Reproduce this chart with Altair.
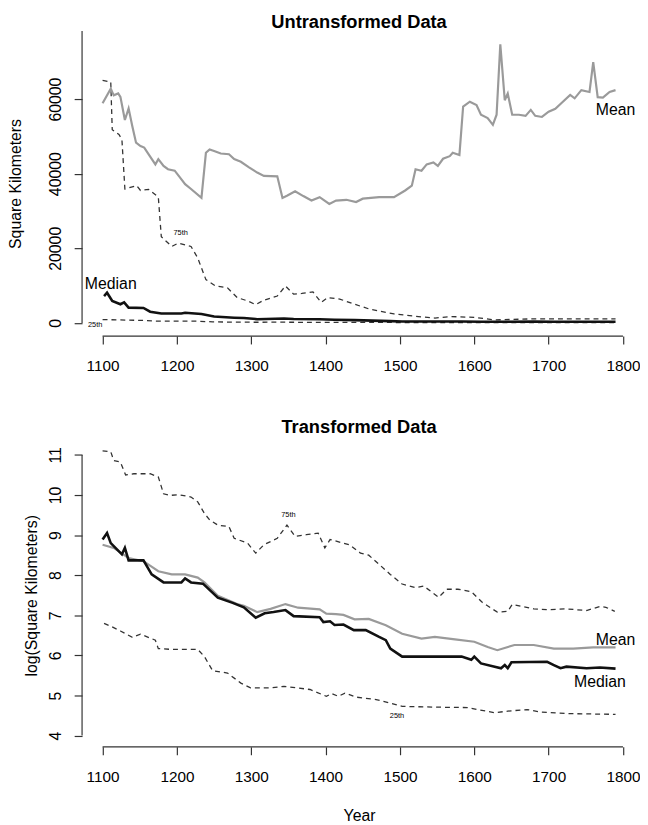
import altair as alt
import pandas as pd

FONT = "Liberation Sans"

# ---------------- Top panel (untransformed, square kilometers) ----------------
TOP_MEAN_YEARS = [1100, 1111, 1115, 1121, 1124, 1130, 1135, 1140, 1145, 1151, 1156, 1162, 1171, 1175,
                  1182, 1188, 1197, 1204, 1211, 1219, 1233, 1239, 1244, 1250, 1259, 1270, 1277, 1286,
                  1297, 1308, 1317, 1335, 1342, 1348, 1359, 1370, 1381, 1392, 1405, 1414, 1428, 1441,
                  1450, 1472, 1492, 1507, 1516, 1521, 1529, 1536, 1545, 1551, 1558, 1567, 1571, 1580,
                  1585, 1594, 1603, 1609, 1618, 1625, 1630, 1635, 1641, 1645, 1651, 1660, 1669, 1676,
                  1682, 1691, 1700, 1709, 1717, 1729, 1735, 1744, 1755, 1760, 1766, 1773, 1782, 1790]
TOP_MEAN = [58900, 62800, 61000, 61500, 60600, 54400, 57500, 52700, 48300, 47400, 47000, 45200, 42500, 43900,
            42100, 41200, 40800, 39000, 37200, 35900, 33500, 45600, 46500, 46100, 45400, 45200, 43900, 43200,
            41700, 40300, 39400, 39300, 33500, 34100, 35300, 34000, 32800, 33700, 31900, 32800, 33000, 32400,
            33300, 33700, 33700, 35500, 36800, 41200, 40800, 42500, 43000, 42100, 44000, 44700, 45600, 45000,
            58000, 59300, 58400, 55800, 54900, 53100, 55800, 74700, 59700, 61500, 55800, 55800, 55500, 57100,
            55500, 55200, 56600, 57400, 58900, 61100, 60200, 62400, 61900, 69900, 60500, 60400, 61900, 62400]

TOP_P75_YEARS = [1100, 1111, 1113, 1122, 1126, 1130, 1146, 1151, 1162, 1175, 1179, 1193, 1202, 1219, 1228,
                 1239, 1252, 1268, 1281, 1295, 1306, 1317, 1335, 1346, 1357, 1368, 1383, 1394, 1403, 1419,
                 1436, 1459, 1492, 1525, 1547, 1569, 1600, 1627, 1680, 1790]
TOP_P75 = [65000, 64600, 51800, 50500, 49200, 35900, 36800, 35500, 35800, 33700, 23100, 20500, 21400, 20500, 17400,
           11600, 9900, 9400, 6800, 5900, 4900, 6100, 7200, 9900, 7700, 7900, 8300, 5500, 6800, 6400,
           5200, 3700, 2400, 1700, 1300, 1700, 1500, 800, 1100, 1100]

TOP_MED_YEARS = [1102, 1106, 1113, 1124, 1129, 1135, 1155, 1164, 1179, 1206, 1211, 1233, 1250, 1277, 1290,
                 1308, 1344, 1357, 1392, 1412, 1439, 1487, 1503, 1583, 1609, 1641, 1680, 1707, 1790]
TOP_MED = [7200, 8100, 5900, 5000, 5500, 4100, 4000, 3000, 2500, 2500, 2700, 2400, 1700, 1400, 1300,
           1000, 1200, 1050, 1000, 850, 750, 480, 400, 400, 330, 310, 340, 310, 290]

TOP_P25_YEARS = [1100, 1151, 1175, 1228, 1248, 1299, 1344, 1401, 1441, 1503, 1627, 1790]
TOP_P25 = [900, 680, 480, 470, 270, 180, 185, 145, 140, 110, 95, 90]

TOP_LABELS = ["Mean", "Median", "75th", "25th"]
TOP_LABEL_YEARS = [1790, 1111, 1205, 1090]
TOP_LABEL_VALUES = [57100, 10300, 24200, -530]
TOP_LABEL_SIZES = [16, 16, 7.5, 7.5]

# ---------------- Bottom panel (log square kilometers) ----------------
BOT_P75_YEARS = [1100, 1111, 1115, 1124, 1131, 1142, 1164, 1175, 1182, 1191, 1202, 1219, 1228, 1237, 1244,
                 1255, 1270, 1277, 1295, 1306, 1317, 1335, 1348, 1359, 1374, 1390, 1399, 1406, 1424, 1432,
                 1447, 1458, 1472, 1487, 1503, 1521, 1532, 1552, 1563, 1578, 1596, 1611, 1631, 1645, 1651,
                 1680, 1698, 1724, 1751, 1769, 1777, 1789]
BOT_P75 = [11.10, 11.08, 10.86, 10.82, 10.50, 10.53, 10.53, 10.45, 10.03, 9.99, 10.01, 9.95, 9.83, 9.54, 9.38,
           9.25, 9.21, 8.92, 8.80, 8.55, 8.76, 8.92, 9.25, 8.97, 9.01, 9.05, 8.68, 8.89, 8.80, 8.76,
           8.55, 8.50, 8.27, 8.02, 7.78, 7.69, 7.73, 7.45, 7.65, 7.65, 7.59, 7.32, 7.08, 7.10, 7.27,
           7.16, 7.14, 7.16, 7.12, 7.22, 7.20, 7.10]

BOT_MEAN_YEARS = [1100, 1115, 1135, 1155, 1175, 1193, 1211, 1228, 1237, 1255, 1281, 1290, 1308, 1326, 1346,
                  1363, 1392, 1401, 1414, 1424, 1439, 1458, 1481, 1503, 1529, 1547, 1574, 1600, 1618, 1631,
                  1654, 1680, 1707, 1733, 1760, 1790]
BOT_MEAN = [8.76, 8.68, 8.43, 8.35, 8.10, 8.02, 8.02, 7.94, 7.82, 7.49, 7.28, 7.24, 7.08, 7.16, 7.28,
            7.19, 7.15, 7.04, 7.03, 7.01, 6.90, 6.91, 6.75, 6.54, 6.42, 6.46, 6.40, 6.34, 6.21, 6.13,
            6.26, 6.26, 6.17, 6.17, 6.20, 6.20]

BOT_MED_YEARS = [1100, 1106, 1111, 1126, 1130, 1135, 1155, 1166, 1182, 1206, 1211, 1219, 1235, 1255, 1275,
                 1290, 1306, 1318, 1330, 1346, 1357, 1392, 1397, 1406, 1412, 1424, 1438, 1454, 1472, 1481,
                 1487, 1503, 1583, 1596, 1600, 1609, 1636, 1641, 1645, 1650, 1698, 1707, 1716, 1724, 1751,
                 1769, 1790]
BOT_MED = [8.89, 9.05, 8.80, 8.52, 8.68, 8.37, 8.37, 8.02, 7.82, 7.82, 7.92, 7.82, 7.79, 7.44, 7.31,
           7.20, 6.94, 7.05, 7.08, 7.13, 6.98, 6.95, 6.83, 6.85, 6.76, 6.77, 6.63, 6.63, 6.46, 6.38,
           6.17, 5.97, 5.97, 5.89, 5.97, 5.80, 5.68, 5.76, 5.68, 5.83, 5.84, 5.76, 5.68, 5.72, 5.68,
           5.70, 5.67]

BOT_P25_YEARS = [1102, 1113, 1124, 1140, 1151, 1171, 1175, 1193, 1228, 1237, 1248, 1268, 1286, 1299, 1326,
                 1344, 1379, 1401, 1408, 1417, 1426, 1441, 1468, 1503, 1547, 1591, 1627, 1645, 1671, 1689,
                 1724, 1790]
BOT_P25 = [6.80, 6.71, 6.61, 6.45, 6.53, 6.38, 6.17, 6.15, 6.15, 5.97, 5.62, 5.56, 5.31, 5.19, 5.19,
           5.23, 5.15, 4.98, 5.05, 4.98, 5.06, 4.96, 4.90, 4.73, 4.71, 4.70, 4.57, 4.61, 4.65, 4.59,
           4.55, 4.53]

BOT_LABELS = ["Mean", "Median", "75th", "25th"]
BOT_LABEL_YEARS = [1790, 1769, 1350, 1496]
BOT_LABEL_VALUES = [6.38, 5.34, 9.50, 4.49]
BOT_LABEL_SIZES = [16, 16, 7.5, 7.5]

# ---------------- Axes ----------------
X_TICKS = [1100, 1200, 1300, 1400, 1500, 1600, 1700, 1800]
TOP_Y_TICKS = [0, 20000, 40000, 60000]
BOT_Y_TICKS = [4, 5, 6, 7, 8, 9, 10, 11]

X_DOMAIN = [1072.4, 1817.6]
TOP_Y_DOMAIN = [-3520, 78270]
BOT_Y_DOMAIN = [3.72, 11.28]

W = 561
TOP_H = 309
BOT_H = 307

MEAN_COLOR = "#9a9a9a"
DARK = "#111111"
DASH_COLOR = "#333333"


def panel(series, labels, ydomain, yticks, ytitle, ytitle_pad, xtitle, height, title, title_y):
    xscale = alt.Scale(domain=X_DOMAIN, nice=False, zero=False)
    yscale = alt.Scale(domain=ydomain, nice=False, zero=False)
    xaxis = alt.Axis(values=X_TICKS, format="d", domain=False, grid=False, tickSize=8,
                     tickColor=DASH_COLOR, tickWidth=1.2, labelPadding=15,
                     labelFontSize=15.5, labelFont=FONT, labelColor="#000",
                     title=xtitle, titleFont=FONT, titleFontSize=16, titleFontWeight="normal",
                     titleColor="#000", titlePadding=23, labelFlush=False, labelOverlap=False)
    yaxis = alt.Axis(values=yticks, format="d", domain=False, grid=False, tickSize=8,
                     tickColor=DASH_COLOR, tickWidth=1.2, labelPadding=11, labelAngle=270,
                     labelAlign="center", labelBaseline="bottom",
                     labelFontSize=16, labelFont=FONT, labelColor="#000",
                     title=ytitle, titleFont=FONT, titleFontSize=16, titleFontWeight="normal",
                     titleColor="#000", titlePadding=ytitle_pad, labelFlush=False, labelOverlap=False)

    layers = []
    for years, vals, color, width, dash in series:
        df = pd.DataFrame({"year": years, "value": vals})
        kw = dict(color=color, strokeWidth=width, clip=True)
        if dash:
            kw["strokeDash"] = dash
        layers.append(
            alt.Chart(df).mark_line(**kw).encode(
                x=alt.X("year:Q", scale=xscale, axis=xaxis),
                y=alt.Y("value:Q", scale=yscale, axis=yaxis),
            )
        )

    names, lyears, lvals, lsizes = labels
    for name, yr, v, s in zip(names, lyears, lvals, lsizes):
        df = pd.DataFrame({"year": [yr], "value": [v], "label": [name]})
        layers.append(
            alt.Chart(df).mark_text(font=FONT, fontSize=s, color="#000", align="center",
                                    baseline="middle").encode(
                x=alt.X("year:Q", scale=xscale, axis=xaxis),
                y=alt.Y("value:Q", scale=yscale, axis=yaxis),
                text="label:N",
            )
        )

    one = pd.DataFrame({"d": [0]})
    # panel title, centred over the plot area
    layers.append(
        alt.Chart(pd.DataFrame({"t": [title]})).mark_text(
            font=FONT, fontSize=18.5, fontWeight="bold", color="#000",
            align="center", baseline="middle").encode(
            x=alt.value(W / 2), y=alt.value(title_y), text="t:N")
    )
    # x axis line spanning first to last tick
    layers.append(
        alt.Chart(one).mark_rule(color=DASH_COLOR, strokeWidth=1.2).encode(
            x=alt.X(datum=X_TICKS[0], scale=xscale, axis=xaxis),
            x2=alt.X2(datum=X_TICKS[-1]),
            y=alt.value(height),
        )
    )
    return alt.layer(*layers).properties(width=W, height=height)


top = panel(
    [
        (TOP_P25_YEARS, TOP_P25, DASH_COLOR, 1.3, [5, 4]),
        (TOP_P75_YEARS, TOP_P75, DASH_COLOR, 1.3, [5, 4]),
        (TOP_MEAN_YEARS, TOP_MEAN, MEAN_COLOR, 2.2, None),
        (TOP_MED_YEARS, TOP_MED, DARK, 2.6, None),
    ],
    (TOP_LABELS, TOP_LABEL_YEARS, TOP_LABEL_VALUES, TOP_LABEL_SIZES),
    TOP_Y_DOMAIN, TOP_Y_TICKS, "Square Kilometers", 24, "", TOP_H, "Untransformed Data", -9,
)

# y axis line for top panel: from 0 to the top of the plot
top_yline = alt.Chart(pd.DataFrame({"d": [0]})).mark_rule(color=DASH_COLOR, strokeWidth=1.2).encode(
    x=alt.value(0),
    y=alt.Y(datum=TOP_Y_TICKS[0], scale=alt.Scale(domain=TOP_Y_DOMAIN, nice=False, zero=False)),
    y2=alt.value(0),
)
top = alt.layer(top, top_yline)

bottom = panel(
    [
        (BOT_P25_YEARS, BOT_P25, DASH_COLOR, 1.3, [5, 4]),
        (BOT_P75_YEARS, BOT_P75, DASH_COLOR, 1.3, [5, 4]),
        (BOT_MEAN_YEARS, BOT_MEAN, MEAN_COLOR, 2.2, None),
        (BOT_MED_YEARS, BOT_MED, DARK, 2.6, None),
    ],
    (BOT_LABELS, BOT_LABEL_YEARS, BOT_LABEL_VALUES, BOT_LABEL_SIZES),
    BOT_Y_DOMAIN, BOT_Y_TICKS, "log(Square Kilometers)", 8, "Year", BOT_H, "Transformed Data", -17,
)
bot_yline = alt.Chart(pd.DataFrame({"d": [0]})).mark_rule(color=DASH_COLOR, strokeWidth=1.2).encode(
    x=alt.value(0),
    y=alt.Y(datum=BOT_Y_TICKS[0], scale=alt.Scale(domain=BOT_Y_DOMAIN, nice=False, zero=False)),
    y2=alt.Y2(datum=BOT_Y_TICKS[-1]),
)
bottom = alt.layer(bottom, bot_yline)

chart = alt.vconcat(top, bottom, spacing=44).properties(
    padding=0
).configure_view(stroke=None)

chart.save("out.html", embed_options={"renderer": "svg", "actions": False})
